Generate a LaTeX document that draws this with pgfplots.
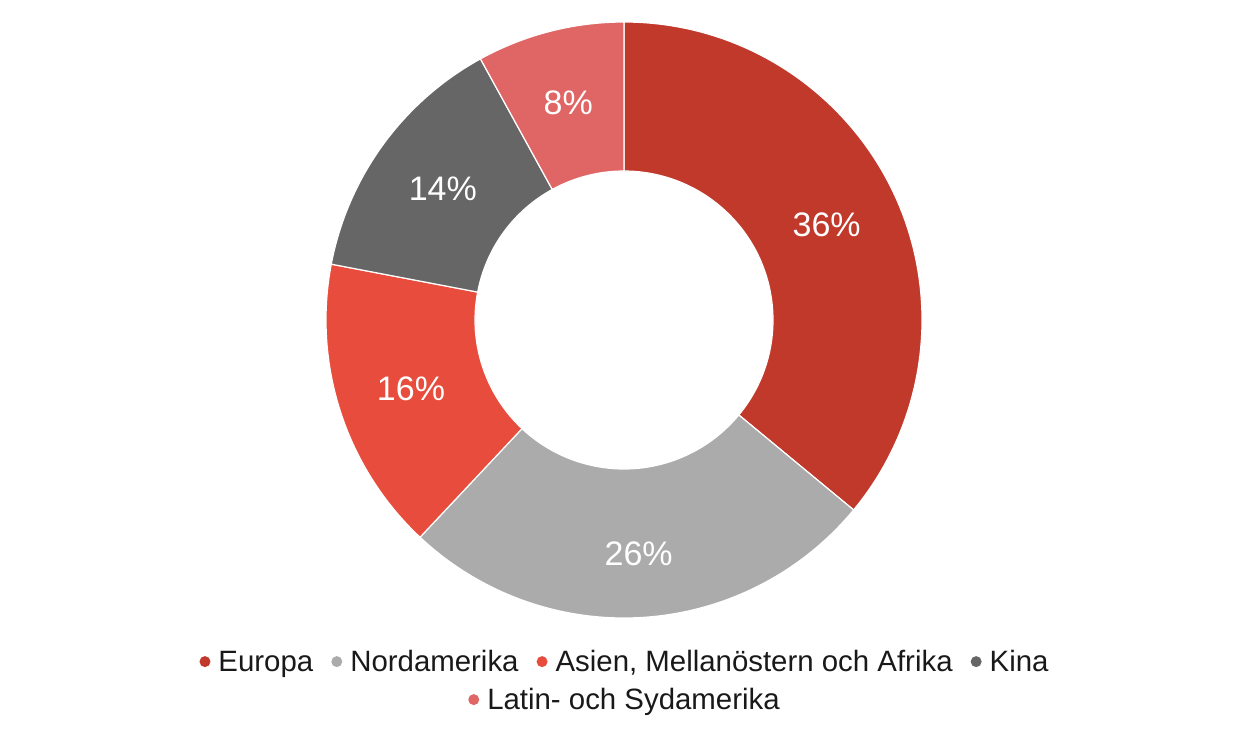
\documentclass[border=0pt]{standalone}
\usepackage{pgfplots}
\pgfplotsset{compat=1.18}
\usepackage{fontspec}
\setmainfont{Liberation Sans}
\definecolor{cEur}{HTML}{C0392B}
\definecolor{cNor}{HTML}{ABABAB}
\definecolor{cAsi}{HTML}{E74C3C}
\definecolor{cKin}{HTML}{666666}
\definecolor{cLat}{HTML}{E06666}
% wedge: #1 cumulative start (%), #2 share (%), #3 colour, #4 label radius (pt)
\newcommand\donutwedge[4]{%
  \fill[#3, draw=white, line width=0.6pt]
    ([shift={({90-3.6*#1}:149pt)}]c.center)
    arc[start angle={90-3.6*#1}, end angle={90-3.6*(#1+#2)}, radius=149pt]
    -- ([shift={({90-3.6*(#1+#2)}:74.5pt)}]c.center)
    arc[start angle={90-3.6*(#1+#2)}, end angle={90-3.6*#1}, radius=74.5pt]
    -- cycle;
  \node[text=white, font=\fontsize{17}{20}\selectfont]
    at ([shift={({90-3.6*(#1+#2/2)}:#4)}]c.center) {#2\%};
}
\newcommand\lgd[1]{\tikz[baseline={(0,-5pt)}]\fill[#1] (0,0) circle (2.75pt);\hspace{4pt}}
\begin{document}
\begin{tikzpicture}
\begin{axis}[
  width=624pt, height=367.5pt, scale only axis,
  xmin=0, xmax=1248, ymin=0, ymax=735, y dir=reverse,
  hide axis, clip=false]
\path (axis cs:0,0) (axis cs:1248,735);
\coordinate (c) at (axis cs:624,320);
\donutwedge{0}{36}{cEur}{112pt}
\donutwedge{36}{26}{cNor}{117pt}
\donutwedge{62}{16}{cAsi}{112pt}
\donutwedge{78}{14}{cKin}{112pt}
\donutwedge{92}{8}{cLat}{112pt}
\node[font=\fontsize{14.7}{17}\selectfont, text=black!90] at (axis cs:624,664)
 {\lgd{cEur}Europa\hspace{9pt}\lgd{cNor}Nordamerika\hspace{9pt}\lgd{cAsi}Asien, Mellanöstern och Afrika\hspace{9pt}\lgd{cKin}Kina};
\node[font=\fontsize{14.7}{17}\selectfont, text=black!90] at (axis cs:624,702)
 {\lgd{cLat}Latin- och Sydamerika};
\end{axis}
\end{tikzpicture}
\end{document}
